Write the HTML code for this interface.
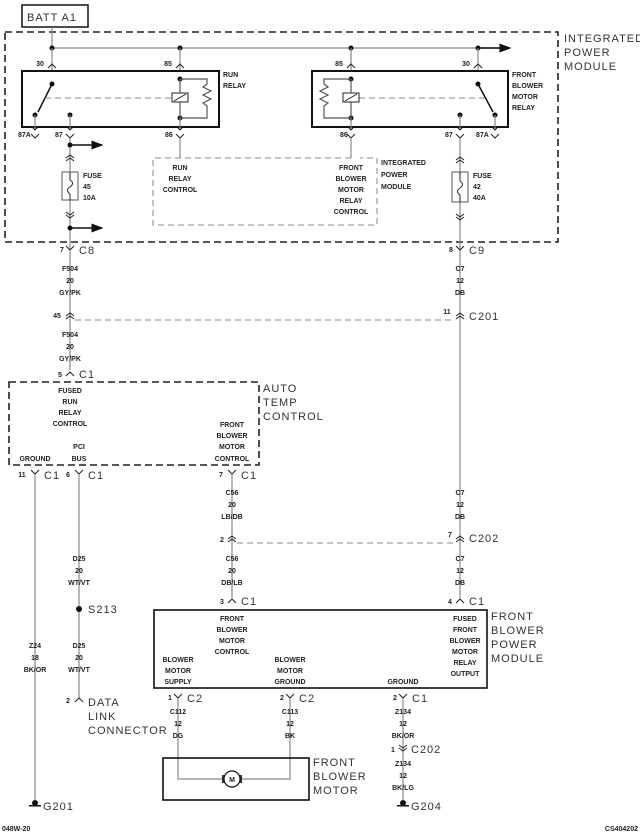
<!DOCTYPE html>
<html><head><meta charset="utf-8"><style>
body{margin:0;background:#fff}
svg{display:block}
.s{font-family:"Liberation Sans Narrow","Liberation Sans",sans-serif;font-size:7px;font-weight:bold;fill:#222;text-anchor:middle}
.l{text-anchor:start}
.L{font-family:"Liberation Sans",sans-serif;font-size:11px;fill:#333;letter-spacing:1px}
.w{stroke:#888;stroke-width:1.2;fill:none}
.b{stroke:#111;stroke-width:2;fill:none}
.d{stroke:#222;stroke-width:1.6;fill:none;stroke-dasharray:7,4}
.dt{stroke:#888;stroke-width:1;fill:none;stroke-dasharray:6,4}
.c{stroke:#222;stroke-width:1;fill:none}
</style></head><body>
<svg width="640" height="835" viewBox="0 0 640 835" xmlns="http://www.w3.org/2000/svg">
<defs>
<path id="V" d="M-4,-4 L0,0 L4,-4" class="c"/>
<path id="A" d="M-4,4 L0,0 L4,4" class="c"/>
<g id="AA"><path d="M-4,3 L0,0 L4,3" class="c"/><path d="M-4,6 L0,3 L4,6" class="c"/></g>
<g id="VV"><path d="M-4,-3 L0,0 L4,-3" class="c"/><path d="M-4,-6 L0,-3 L4,-6" class="c"/></g>
<marker id="ar" markerWidth="8" markerHeight="6" refX="7" refY="3" orient="auto"><path d="M0,0 L8,3 L0,6z" fill="#111"/></marker>
</defs>

<!-- BATT -->
<rect x="22" y="5" width="66" height="22" fill="none" stroke="#111" stroke-width="1.5"/>
<text x="27" y="21" class="L" style="font-size:11px">BATT A1</text>
<!-- IPM outer -->
<rect x="5" y="32" width="553" height="210" class="d"/>
<text x="564" y="42" class="L">INTEGRATED</text>
<text x="564" y="56" class="L">POWER</text>
<text x="564" y="70" class="L">MODULE</text>

<path class="w" d="M52,27 V48 H505"/>
<line x1="478" y1="48" x2="510" y2="48" stroke="#111" stroke-width="1.5" marker-end="url(#ar)"/>
<g fill="#111"><circle cx="52" cy="48" r="2.5"/><circle cx="180" cy="48" r="2.5"/><circle cx="351" cy="48" r="2.5"/><circle cx="478" cy="48" r="2.5"/></g>
<path class="w" d="M52,48 V71 M180,48 V71 M351,48 V71 M478,48 V71"/>
<use href="#A" x="52" y="64"/><use href="#A" x="180" y="64"/><use href="#A" x="351" y="64"/><use href="#A" x="478" y="64"/>
<text x="40" y="66" class="s">30</text><text x="168" y="66" class="s">85</text><text x="339" y="66" class="s">85</text><text x="466" y="66" class="s">30</text>

<!-- run relay -->
<rect x="22" y="71" width="197" height="56" class="b"/>
<text x="223" y="77" class="s l">RUN</text><text x="223" y="88" class="s l">RELAY</text>
<g fill="#111"><circle cx="52" cy="84" r="2.5"/><circle cx="35" cy="115" r="2.5"/><circle cx="70" cy="115" r="2.5"/><circle cx="180" cy="79" r="2.5"/><circle cx="180" cy="118" r="2.5"/></g>
<line x1="52" y1="84" x2="38" y2="112" stroke="#111" stroke-width="1.5"/>
<line x1="45" y1="98" x2="172" y2="98" class="dt"/>
<rect x="172" y="93" width="16" height="9" fill="#fff" stroke="#222"/>
<line x1="174" y1="101" x2="186" y2="94" stroke="#222"/>
<path class="w" style="stroke:#555" d="M180,79 H207 V84 l-4,3 l8,4 l-8,4 l8,4 l-8,4 l4,3 V118 H180 M180,79 V93 M180,102 V118"/>
<path class="w" d="M35,115 V130 M70,115 V130 M180,118 V130"/>
<use href="#V" x="35" y="130"/><use href="#V" x="70" y="130"/><use href="#V" x="180" y="130"/>
<use href="#V" x="35" y="138"/><use href="#V" x="70" y="138"/><use href="#V" x="180" y="138"/>
<text x="18" y="137" class="s l">87A</text><text x="55" y="137" class="s l">87</text><text x="165" y="137" class="s l">86</text>

<!-- front relay -->
<rect x="312" y="71" width="196" height="56" class="b"/>
<text x="512" y="77" class="s l">FRONT</text><text x="512" y="88" class="s l">BLOWER</text><text x="512" y="99" class="s l">MOTOR</text><text x="512" y="110" class="s l">RELAY</text>
<g fill="#111"><circle cx="478" cy="84" r="2.5"/><circle cx="495" cy="115" r="2.5"/><circle cx="460" cy="115" r="2.5"/><circle cx="351" cy="79" r="2.5"/><circle cx="351" cy="118" r="2.5"/></g>
<line x1="478" y1="84" x2="493" y2="112" stroke="#111" stroke-width="1.5"/>
<line x1="359" y1="98" x2="485" y2="98" class="dt"/>
<rect x="343" y="93" width="16" height="9" fill="#fff" stroke="#222"/>
<line x1="345" y1="101" x2="357" y2="94" stroke="#222"/>
<path class="w" style="stroke:#555" d="M351,79 H324 V84 l4,3 l-8,4 l8,4 l-8,4 l8,4 l-4,3 V118 H351 M351,79 V93 M351,102 V118"/>
<path class="w" d="M495,115 V130 M460,115 V130 M351,118 V130"/>
<use href="#V" x="495" y="130"/><use href="#V" x="460" y="130"/><use href="#V" x="351" y="130"/>
<use href="#V" x="495" y="138"/><use href="#V" x="460" y="138"/><use href="#V" x="351" y="138"/>
<text x="340" y="137" class="s l">86</text><text x="445" y="137" class="s l">87</text><text x="476" y="137" class="s l">87A</text>

<!-- run relay control box -->
<path class="dt" d="M351,158 H153 V225 H377 V158 H360"/>
<path class="w" d="M180,138 V158 M351,138 V158"/>
<text x="180" y="170" class="s">RUN</text><text x="180" y="181" class="s">RELAY</text><text x="180" y="192" class="s">CONTROL</text>
<text x="351" y="170" class="s">FRONT</text><text x="351" y="181" class="s">BLOWER</text><text x="351" y="192" class="s">MOTOR</text><text x="351" y="203" class="s">RELAY</text><text x="351" y="214" class="s">CONTROL</text>
<text x="381" y="165" class="s l">INTEGRATED</text><text x="381" y="177" class="s l">POWER</text><text x="381" y="189" class="s l">MODULE</text>

<!-- fuses -->
<path class="w" d="M70,138 V250 M460,138 V315"/>
<circle cx="70" cy="145" r="2.5" fill="#111"/><circle cx="70" cy="228" r="2.5" fill="#111"/>
<line x1="70" y1="145" x2="102" y2="145" stroke="#111" stroke-width="1.5" marker-end="url(#ar)"/>
<line x1="70" y1="228" x2="102" y2="228" stroke="#111" stroke-width="1.5" marker-end="url(#ar)"/>
<use href="#AA" x="70" y="155"/><use href="#VV" x="70" y="218"/>
<use href="#AA" x="460" y="157"/><use href="#VV" x="460" y="220"/>
<rect x="62" y="172" width="16" height="28" fill="#fff" stroke="#555"/>
<path d="M70,172 V180 q5,3 0,7 q-5,3 0,7 V200" stroke="#222" fill="none"/>
<text x="83" y="178" class="s l">FUSE</text><text x="83" y="189" class="s l">45</text><text x="83" y="200" class="s l">10A</text>
<rect x="452" y="172" width="16" height="30" fill="#fff" stroke="#555"/>
<path d="M460,172 V181 q5,3 0,7 q-5,3 0,7 V202" stroke="#222" fill="none"/>
<text x="473" y="178" class="s l">FUSE</text><text x="473" y="189" class="s l">42</text><text x="473" y="200" class="s l">40A</text>

<!-- C8 / C9 -->
<use href="#V" x="70" y="250"/><use href="#V" x="460" y="250"/>
<text x="62" y="252" class="s">7</text><text x="79" y="254" class="L">C8</text>
<text x="451" y="252" class="s">8</text><text x="469" y="254" class="L">C9</text>
<path class="w" d="M70,250 V370 M460,315 V598"/>
<text x="70" y="271" class="s">F504</text><text x="70" y="283" class="s">20</text><text x="70" y="295" class="s">GY/PK</text>
<text x="460" y="271" class="s">C7</text><text x="460" y="283" class="s">12</text><text x="460" y="295" class="s">DB</text>
<!-- C201 -->
<use href="#AA" x="70" y="313"/><use href="#AA" x="460" y="313"/>
<line x1="75" y1="320" x2="455" y2="320" class="dt"/>
<text x="57" y="318" class="s">45</text><text x="447" y="314" class="s">11</text><text x="469" y="320" class="L">C201</text>
<text x="70" y="337" class="s">F504</text><text x="70" y="349" class="s">20</text><text x="70" y="361" class="s">GY/PK</text>
<use href="#A" x="70" y="372"/><text x="60" y="377" class="s">5</text><text x="79" y="378" class="L">C1</text>

<!-- ATC -->
<rect x="9" y="382" width="250" height="83" class="d"/>
<text x="263" y="392" class="L">AUTO</text><text x="263" y="406" class="L">TEMP</text><text x="263" y="420" class="L">CONTROL</text>
<text x="70" y="393" class="s">FUSED</text><text x="70" y="404" class="s">RUN</text><text x="70" y="415" class="s">RELAY</text><text x="70" y="426" class="s">CONTROL</text>
<text x="35" y="461" class="s">GROUND</text>
<text x="79" y="449" class="s">PCI</text><text x="79" y="461" class="s">BUS</text>
<text x="232" y="427" class="s">FRONT</text><text x="232" y="438" class="s">BLOWER</text><text x="232" y="449" class="s">MOTOR</text><text x="232" y="461" class="s">CONTROL</text>
<use href="#V" x="35" y="474"/><use href="#V" x="79" y="474"/><use href="#V" x="232" y="474"/>
<text x="22" y="477" class="s">11</text><text x="44" y="479" class="L">C1</text>
<text x="68" y="477" class="s">6</text><text x="88" y="479" class="L">C1</text>
<text x="221" y="477" class="s">7</text><text x="241" y="479" class="L">C1</text>
<path class="w" d="M35,474 V805 M79,474 V698 M232,474 V598"/>
<text x="232" y="495" class="s">C56</text><text x="232" y="507" class="s">20</text><text x="232" y="519" class="s">LB/DB</text>
<text x="460" y="495" class="s">C7</text><text x="460" y="507" class="s">12</text><text x="460" y="519" class="s">DB</text>
<!-- C202 -->
<use href="#AA" x="232" y="536"/><use href="#AA" x="460" y="536"/>
<line x1="237" y1="543" x2="455" y2="543" class="dt"/>
<text x="222" y="542" class="s">2</text><text x="450" y="537" class="s">7</text><text x="469" y="542" class="L">C202</text>
<text x="232" y="561" class="s">C56</text><text x="232" y="573" class="s">20</text><text x="232" y="585" class="s">DB/LB</text>
<text x="460" y="561" class="s">C7</text><text x="460" y="573" class="s">12</text><text x="460" y="585" class="s">DB</text>
<text x="79" y="561" class="s">D25</text><text x="79" y="573" class="s">20</text><text x="79" y="585" class="s">WT/VT</text>
<use href="#A" x="232" y="599"/><use href="#A" x="460" y="599"/>
<text x="222" y="604" class="s">3</text><text x="241" y="605" class="L">C1</text>
<text x="450" y="604" class="s">4</text><text x="469" y="605" class="L">C1</text>
<circle cx="79" cy="609" r="3" fill="#111"/><text x="88" y="613" class="L">S213</text>
<text x="79" y="648" class="s">D25</text><text x="79" y="660" class="s">20</text><text x="79" y="672" class="s">WT/VT</text>
<text x="35" y="648" class="s">Z24</text><text x="35" y="660" class="s">18</text><text x="35" y="672" class="s">BK/OR</text>
<use href="#A" x="79" y="698"/><text x="68" y="703" class="s">2</text>
<text x="88" y="706" class="L">DATA</text><text x="88" y="720" class="L">LINK</text><text x="88" y="734" class="L">CONNECTOR</text>

<!-- FBPM -->
<rect x="154" y="610" width="333" height="78" class="b" style="stroke-width:1.6"/>
<text x="491" y="620" class="L">FRONT</text><text x="491" y="634" class="L">BLOWER</text><text x="491" y="648" class="L">POWER</text><text x="491" y="662" class="L">MODULE</text>
<text x="232" y="621" class="s">FRONT</text><text x="232" y="632" class="s">BLOWER</text><text x="232" y="643" class="s">MOTOR</text><text x="232" y="654" class="s">CONTROL</text>
<text x="465" y="621" class="s">FUSED</text><text x="465" y="632" class="s">FRONT</text><text x="465" y="643" class="s">BLOWER</text><text x="465" y="654" class="s">MOTOR</text><text x="465" y="665" class="s">RELAY</text><text x="465" y="676" class="s">OUTPUT</text>
<text x="178" y="662" class="s">BLOWER</text><text x="178" y="673" class="s">MOTOR</text><text x="178" y="684" class="s">SUPPLY</text>
<text x="290" y="662" class="s">BLOWER</text><text x="290" y="673" class="s">MOTOR</text><text x="290" y="684" class="s">GROUND</text>
<text x="403" y="684" class="s">GROUND</text>
<use href="#V" x="178" y="698"/><use href="#V" x="290" y="698"/><use href="#V" x="403" y="698"/>
<text x="170" y="700" class="s">1</text><text x="187" y="702" class="L">C2</text>
<text x="282" y="700" class="s">2</text><text x="299" y="702" class="L">C2</text>
<text x="395" y="700" class="s">2</text><text x="412" y="702" class="L">C1</text>
<path class="w" d="M178,698 V779 H222 M290,698 V779 H242 M403,698 V800"/>
<text x="178" y="714" class="s">C112</text><text x="178" y="726" class="s">12</text><text x="178" y="738" class="s">DG</text>
<text x="290" y="714" class="s">C113</text><text x="290" y="726" class="s">12</text><text x="290" y="738" class="s">BK</text>
<text x="403" y="714" class="s">Z134</text><text x="403" y="726" class="s">12</text><text x="403" y="738" class="s">BK/OR</text>
<use href="#VV" x="403" y="751"/><text x="393" y="752" class="s">1</text><text x="411" y="753" class="L">C202</text>
<text x="403" y="766" class="s">Z134</text><text x="403" y="778" class="s">12</text><text x="403" y="790" class="s">BK/LG</text>
<!-- motor -->
<rect x="163" y="758" width="146" height="42" class="b" style="stroke-width:1.6"/>
<rect x="222" y="775" width="4" height="8" fill="#333"/><rect x="238" y="775" width="4" height="8" fill="#333"/>
<circle cx="232" cy="779" r="8" fill="#fff" stroke="#111" stroke-width="1.2"/>
<text x="232" y="782" class="s">M</text>
<text x="313" y="766" class="L">FRONT</text><text x="313" y="780" class="L">BLOWER</text><text x="313" y="794" class="L">MOTOR</text>
<!-- grounds -->
<g fill="#111"><circle cx="35" cy="803" r="3"/><rect x="29" y="805" width="12" height="1.5"/><circle cx="403" cy="803" r="3"/><rect x="397" y="805" width="12" height="1.5"/></g>
<text x="43" y="810" class="L">G201</text><text x="411" y="810" class="L">G204</text>
<text x="2" y="831" class="s l">048W-20</text>
<text x="638" y="831" class="s" style="text-anchor:end">CS404202</text>
</svg>
</body></html>
